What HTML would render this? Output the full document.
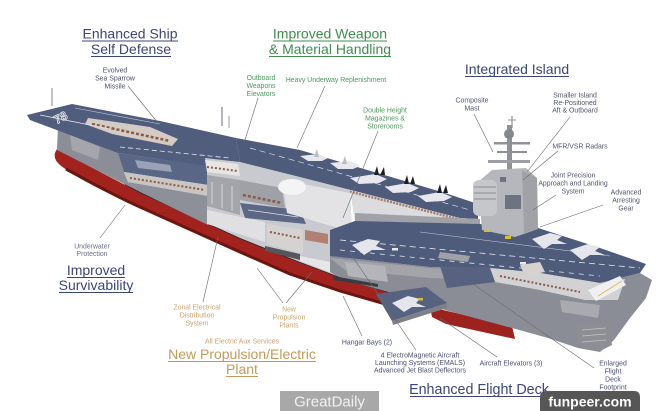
<!DOCTYPE html>
<html><head><meta charset="utf-8"><style>
html,body{margin:0;padding:0;background:#fff;}
svg{display:block;}
</style></head><body>
<svg width="660" height="411" viewBox="0 0 660 411" xmlns="http://www.w3.org/2000/svg" font-family="'Liberation Sans', Arial, sans-serif">
<rect width="660" height="411" fill="#fff"/>

<!-- masts at stern -->
<line x1="52" y1="88" x2="52" y2="106" stroke="#9a9ca2" stroke-width="1.2"/>
<line x1="222" y1="107" x2="222" y2="126" stroke="#9a9ca2" stroke-width="1.5"/>
<line x1="229" y1="116" x2="229" y2="128" stroke="#9a9ca2" stroke-width="1"/>

<!-- RED HULL -->
<path d="M57,149 C75,158 110,178 140,192 L240,238 L290,258 L340,277 L392,293 L392,307 L340,292 L290,275 L240,253 L140,208 C110,194 80,180 64,168 Q50,159 57,149 Z" fill="#a2231e"/>
<path d="M66,169 C90,182 115,196 140,207 L240,252 L290,274 L340,291 L392,306" fill="none" stroke="#6c1410" stroke-width="3"/>
<path d="M430,307 L512,326 L515,339 L446,324 L432,317 Z" fill="#9c221d"/>
<path d="M125,184 L140,192 L240,238 L290,258 L340,277 L392,293" fill="none" stroke="#232325" stroke-width="1.6"/>

<!-- stern hull side -->
<polygon points="58,126 118,152 124,172 128,182 140,192 57,150" fill="#8b8e96"/>
<polygon points="70,135 100,147 98,160 72,150" fill="#a4a6ac"/>

<!-- stern flight deck -->
<polygon points="27,115 72,104 160,121 236,138 240,162 205,166 118,153 30,120" fill="#515d7c"/>
<polygon points="88,118 150,127 178,139 172,146 112,134 85,124" fill="#d4cbc4"/>
<line x1="92" y1="124" x2="170" y2="141" stroke="#8e5a46" stroke-width="2.5" stroke-dasharray="3,2"/>
<line x1="40" y1="115" x2="110" y2="129" stroke="#e6e8ee" stroke-width="0.8"/>
<line x1="120" y1="147" x2="230" y2="158" stroke="#e6e8ee" stroke-width="0.8" stroke-dasharray="5,3"/>
<line x1="75" y1="108" x2="160" y2="124" stroke="#c8ccd6" stroke-width="0.6"/>
<text x="54" y="122" font-size="12" font-weight="bold" fill="none" stroke="#e8eaf0" stroke-width="0.8" transform="rotate(-28 60 118)">78</text>

<!-- lower deck at stern cut -->
<polygon points="118,153 207,166 208,185 124,172" fill="#5a6685"/>
<polygon points="135,160 170,165 172,172 138,168" fill="#9aa2b8"/>
<polygon points="124,172 208,185 208,196 128,182" fill="#c9c5c2"/>
<line x1="130" y1="178" x2="205" y2="190" stroke="#8e5a46" stroke-width="2" stroke-dasharray="2,2"/>
<polygon points="128,182 208,196 208,225 140,192" fill="#8d9098"/>

<!-- far wall (light) -->
<polygon points="300,177 460,218 472,229 420,227 355,222 350,190" fill="#dcdcdf"/>
<line x1="300" y1="179" x2="462" y2="220" stroke="#a57d6c" stroke-width="2.5" stroke-dasharray="2,1.2"/>

<!-- central cutaway -->
<polygon points="205,158 240,162 300,175 350,190 352,232 345,279 300,262 240,238 207,223 207,168" fill="#c9cacf"/>
<polygon points="205,160 238,164 240,176 207,172" fill="#e8e6e4"/>
<line x1="207" y1="167" x2="238" y2="171" stroke="#8e5a46" stroke-width="2" stroke-dasharray="2,2"/>
<polygon points="207,175 240,180 240,215 207,206" fill="#a4a5aa"/>
<line x1="212" y1="182" x2="212" y2="204" stroke="#e2e2e4" stroke-width="0.8"/>
<line x1="222" y1="184" x2="222" y2="208" stroke="#e2e2e4" stroke-width="0.8"/>
<line x1="232" y1="186" x2="232" y2="211" stroke="#e2e2e4" stroke-width="0.8"/>
<polygon points="240,180 282,188 285,208 240,200" fill="#a0a1a6"/>
<line x1="243" y1="195" x2="282" y2="203" stroke="#8e5a46" stroke-width="2.5" stroke-dasharray="3,2"/>
<polygon points="240,203 300,210 306,224 245,218" fill="#5d6886"/>
<line x1="248" y1="210" x2="298" y2="217" stroke="#dfe2ea" stroke-width="0.7"/>
<polygon points="207,210 265,222 265,242 207,224" fill="#e0e0e2"/>
<polygon points="267,224 303,230 303,254 267,244" fill="#d5d3d2"/>
<line x1="270" y1="232" x2="300" y2="238" stroke="#8e5a46" stroke-width="2" stroke-dasharray="2,2"/>
<polygon points="265,246 300,254 300,260 265,251" fill="#55575d"/>
<polygon points="282,180 350,193 352,232 287,213" fill="#e3e3e6"/>
<ellipse cx="292" cy="187" rx="14" ry="8" fill="#f4f4f6"/>
<polygon points="300,256 340,264 340,276 300,261" fill="#e6e6e8"/>
<polygon points="305,230 328,234 328,244 305,240" fill="#b08070"/>

<!-- far deck strip with planes -->
<polygon points="236,138 300,150 445,193 478,204 478,219 460,218 300,177 240,162" fill="#4f5b7a"/>
<line x1="250" y1="148" x2="470" y2="210" stroke="#d8dce6" stroke-width="0.7" stroke-dasharray="6,4"/>

<!-- forward hull side -->
<polygon points="330,256 430,267 490,268 540,273 600,283 640,273 652,280 646,298 630,318 614,340 600,352 578,348 548,338 512,328 445,310 420,300 392,293 345,280 330,272" fill="#8a8d95"/>
<polygon points="330,258 430,268 490,270 540,276 600,286 600,292 540,284 490,280 430,278 345,270" fill="#a2a4aa"/>
<polygon points="345,262 385,266 388,282 348,276" fill="#b4b5ba"/>
<polygon points="333,276 378,284 378,287 333,280" fill="#3a3b40"/>
<polygon points="560,300 600,305 598,318 562,312" fill="#a8aaaf"/>
<polygon points="576,325 608,322 612,345 600,351 580,346" fill="#8c8e94"/>
<line x1="582" y1="330" x2="606" y2="328" stroke="#c4c5c9" stroke-width="0.8"/>
<line x1="582" y1="336" x2="606" y2="334" stroke="#c4c5c9" stroke-width="0.8"/>
<line x1="582" y1="342" x2="606" y2="340" stroke="#c4c5c9" stroke-width="0.8"/>

<!-- gray ledge -->
<polygon points="355,213 480,219 480,227 355,222" fill="#a0a2a7"/>

<!-- forward flight deck -->
<polygon points="330,230 355,221 480,224 535,227 600,248 646,264 640,273 600,283 540,273 490,268 430,267 330,256" fill="#4f5b7a"/>
<line x1="340" y1="240" x2="640" y2="268" stroke="#e4e7ee" stroke-width="0.8" stroke-dasharray="6,4"/>
<line x1="340" y1="250" x2="600" y2="276" stroke="#e4e7ee" stroke-width="0.8" stroke-dasharray="5,5"/>
<line x1="420" y1="232" x2="610" y2="256" stroke="#c9cdd8" stroke-width="0.6"/>
<polygon points="440,252 470,256 468,262 438,258" fill="#9ea1a8"/>
<rect x="392" y="248" width="6" height="2.5" fill="#e8e8ee"/>
<rect x="520" y="262" width="6" height="2.5" fill="#e8e8ee"/>

<!-- bow cutaway -->
<polygon points="490,268 540,273 600,283 625,279 618,300 585,300 540,290 495,282" fill="#d2d2d5"/>
<line x1="500" y1="276" x2="580" y2="292" stroke="#8e5a46" stroke-width="2" stroke-dasharray="2,2"/>
<polygon points="588,290 620,276 626,285 596,301" fill="#f0f0f2"/>
<line x1="598" y1="296" x2="622" y2="281" stroke="#d8b840" stroke-width="0.8"/>
<polygon points="520,265 540,262 545,272 525,276" fill="#d6d2cc"/>

<!-- elevator platform near side -->
<polygon points="376,294 426,287 447,303 392,321" fill="#56627f"/>
<polygon points="392,321 447,303 447,308 393,325" fill="#7d8088"/>
<polygon points="440,266 490,268 495,282 447,288" fill="#56627f"/>

<!-- island -->
<rect x="507" y="125" width="5" height="50" fill="#8f9196"/>
<line x1="512" y1="116" x2="512" y2="128" stroke="#8f9196" stroke-width="1.2"/>
<line x1="508" y1="120" x2="516" y2="120" stroke="#8f9196" stroke-width="1"/>
<circle cx="509" cy="134" r="5" fill="#85878e"/>
<rect x="494" y="142" width="36" height="2.5" fill="#8f9196"/>
<rect x="497" y="151" width="30" height="2" fill="#8f9196"/>
<rect x="488" y="160" width="42" height="3" fill="#9c9ea3"/>
<polygon points="478,182 492,170 526,168 537,178 538,229 515,237 482,230" fill="#b5b7bc"/>
<polygon points="522,170 537,178 538,229 524,233" fill="#a0a2a7"/>
<rect x="473" y="180" width="24" height="36" rx="6" fill="#c6c7cb"/>
<line x1="474" y1="187" x2="496" y2="187" stroke="#8a8c92" stroke-width="1"/>
<line x1="474" y1="193" x2="496" y2="193" stroke="#8a8c92" stroke-width="1"/>
<line x1="474" y1="199" x2="496" y2="199" stroke="#8a8c92" stroke-width="1"/>
<rect x="505" y="195" width="16" height="14" fill="#6d7381"/>
<rect x="500" y="177" width="6" height="5" fill="#6d7381"/>
<rect x="484" y="229" width="6" height="3" fill="#d8c030"/>
<rect x="505" y="236" width="6" height="3" fill="#d8c030"/>

<!-- planes on far strip -->
<g fill="#e6e8ee">
<path d="M300,156 l18,-2 l10,4 l-6,3 l-14,0 z"/>
<path d="M330,163 l20,-2 l10,5 l-7,3 l-15,0 z"/>
<path d="M350,178 l25,-4 l12,5 l-8,4 l-20,1 z"/>
<path d="M385,187 l22,-4 l12,5 l-8,4 l-18,1 z"/>
<path d="M418,196 l22,-4 l12,5 l-8,4 l-18,1 z"/>
</g>
<g fill="#1e1f24">
<polygon points="374,175 377,166 379,175"/><polygon points="380,175 384,167 385,175"/>
<polygon points="404,184 407,175 409,184"/><polygon points="410,184 413,176 415,184"/>
<polygon points="437,193 440,184 442,193"/><polygon points="443,193 446,185 448,193"/>
</g>
<g fill="#b8bcc6">
<polygon points="314,157 317,149 319,157"/><polygon points="342,164 345,156 347,164"/>
</g>

<!-- planes on forward deck -->
<g fill="#e4e6ec">
<path d="M352,245 l16,-6 l12,2 l-4,5 l10,4 l-14,0 l-8,5 z"/>
<path d="M532,239 l18,-6 l12,3 l-5,4 l10,4 l-15,0 l-8,5 z"/>
<path d="M570,250 l18,-6 l12,3 l-5,4 l10,4 l-15,0 l-8,5 z"/>
<path d="M392,303 l16,-7 l12,3 l-4,4 l10,4 l-14,0 l-8,5 z"/>
</g>
<rect x="418" y="298" width="5" height="2.5" fill="#d8c030"/>

<!-- LEADER LINES -->
<g stroke="#6a6a6a" stroke-width="0.6" fill="none">
<line x1="128" y1="86" x2="158" y2="123"/>
<line x1="258" y1="98" x2="245" y2="140"/>
<line x1="325" y1="86" x2="297" y2="148"/>
<line x1="378" y1="131" x2="343" y2="218"/>
<line x1="474" y1="114" x2="493" y2="152"/>
<line x1="570" y1="117" x2="527" y2="172"/>
<line x1="558" y1="151" x2="523" y2="180"/>
<line x1="556" y1="195" x2="533" y2="210"/>
<line x1="603" y1="205" x2="540" y2="227"/>
<line x1="100" y1="238" x2="125" y2="205"/>
<line x1="203" y1="302" x2="218" y2="237"/>
<line x1="283" y1="303" x2="257" y2="268"/>
<line x1="286" y1="303" x2="312" y2="272"/>
<line x1="362" y1="336" x2="343" y2="296"/>
<line x1="416" y1="350" x2="350" y2="253"/>
<line x1="497" y1="357" x2="440" y2="318"/>
<line x1="594" y1="368" x2="470" y2="282"/>
</g>

<!-- HEADINGS -->
<g font-size="14" text-anchor="middle">
<text x="130" y="38.5" fill="#3c4678">Enhanced Ship</text>
<text x="131" y="54" fill="#3c4678">Self Defense</text>
<text x="330" y="38.5" fill="#3f8d50">Improved Weapon</text>
<text x="330" y="54" fill="#3f8d50">&amp; Material Handling</text>
<text x="517" y="74" fill="#3c4678">Integrated Island</text>
<text x="96" y="275" fill="#3c4678">Improved</text>
<text x="96" y="290" fill="#3c4678">Survivability</text>
<text x="242" y="359" fill="#c49a58">New Propulsion/Electric</text>
<text x="242" y="374" fill="#c49a58">Plant</text>
<text x="479" y="394" fill="#3c4678" font-size="14.3">Enhanced Flight Deck</text>
</g>
<g stroke-width="1">
<line x1="82" y1="41" x2="178" y2="41" stroke="#3c4678"/>
<line x1="91" y1="56.5" x2="171" y2="56.5" stroke="#3c4678"/>
<line x1="273" y1="41" x2="387" y2="41" stroke="#3f8d50"/>
<line x1="269" y1="56.5" x2="391" y2="56.5" stroke="#3f8d50"/>
<line x1="465" y1="76.5" x2="569" y2="76.5" stroke="#3c4678"/>
<line x1="67" y1="277.5" x2="125" y2="277.5" stroke="#3c4678"/>
<line x1="59" y1="292.5" x2="133" y2="292.5" stroke="#3c4678"/>
<line x1="168" y1="361.5" x2="316" y2="361.5" stroke="#c49a58"/>
<line x1="226" y1="376.5" x2="258" y2="376.5" stroke="#c49a58"/>
<line x1="410" y1="396.5" x2="548" y2="396.5" stroke="#3c4678"/>
</g>

<!-- SMALL LABELS -->
<g font-size="6.9" text-anchor="middle">
<g fill="#4c4f68">
<text x="115" y="72.5">Evolved</text>
<text x="115" y="80.5">Sea Sparrow</text>
<text x="115" y="88.5">Missile</text>
</g>
<g fill="#4a9a5c">
<text x="261" y="80">Outboard</text>
<text x="261" y="88">Weapons</text>
<text x="261" y="96">Elevators</text>
<text x="336" y="82">Heavy Underway Replenishment</text>
<text x="385" y="112.5">Double Height</text>
<text x="385" y="120.5">Magazines &amp;</text>
<text x="385" y="128.5">Storerooms</text>
</g>
<g fill="#50556e">
<text x="472" y="102.5">Composite</text>
<text x="472" y="110.5">Mast</text>
<text x="575" y="97.5">Smaller Island</text>
<text x="575" y="105">Re-Positioned</text>
<text x="575" y="112.5">Aft &amp; Outboard</text>
<text x="580" y="148.5">MFR/VSR Radars</text>
<text x="573" y="177.5">Joint Precision</text>
<text x="573" y="185.5">Approach and Landing</text>
<text x="573" y="193.5">System</text>
<text x="626" y="194.5">Advanced</text>
<text x="626" y="202.5">Arresting</text>
<text x="626" y="210.5">Gear</text>
</g>
<g fill="#6a6f88">
<text x="92" y="248.5">Underwater</text>
<text x="92" y="256">Protection</text>
</g>
<g fill="#c9a46e">
<text x="197" y="309.5">Zonal Electrical</text>
<text x="197" y="317.5">Distribution</text>
<text x="197" y="325.5">System</text>
<text x="289" y="311.5">New</text>
<text x="289" y="319.5">Propulsion</text>
<text x="289" y="327.5">Plants</text>
<text x="242" y="343.5">All Electric Aux Services</text>
</g>
<g fill="#4b5070">
<text x="367" y="344.5">Hangar Bays (2)</text>
<text x="420" y="357.5">4 ElectroMagnetic Aircraft</text>
<text x="420" y="365">Launching Systems (EMALS)</text>
<text x="420" y="372.5">Advanced Jet Blast Deflectors</text>
<text x="511" y="365.5">Aircraft Elevators (3)</text>
<text x="613" y="365.5">Enlarged</text>
<text x="613" y="373.5">Flight</text>
<text x="613" y="381.5">Deck</text>
<text x="613" y="389.5">Footprint</text>
<text x="613" y="397.5">"Pit Stop"</text>
</g>
</g>

<!-- WATERMARKS -->
<rect x="280" y="391" width="99" height="20" fill="#a8a8a8"/>
<text x="329.5" y="406.5" text-anchor="middle" font-size="15" fill="#f2f2f2">GreatDaily</text>
<path d="M540,411 V397 Q540,391 546,391 H634 Q640,391 640,397 V411 Z" fill="#565656"/>
<text x="590" y="406.5" text-anchor="middle" font-size="14" font-weight="bold" fill="#ffffff">funpeer.com</text>
</svg>
</body></html>
